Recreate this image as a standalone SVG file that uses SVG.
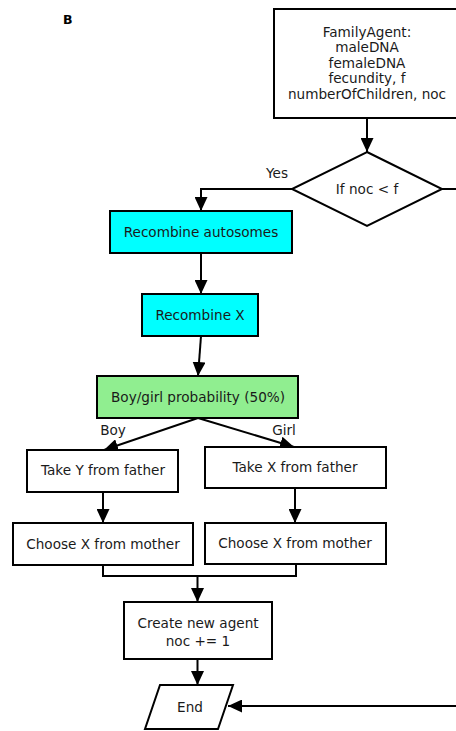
<svg xmlns="http://www.w3.org/2000/svg" width="456" height="731" viewBox="0 0 456 731">
  <style>
    .box { stroke: #000; stroke-width: 2; fill: #fff; }
    .cyan { fill: #00ffff; }
    .green { fill: #90ee90; }
    .lbl { font-family: "DejaVu Sans", sans-serif; font-size: 13.6px; fill: #1a1a1a; text-anchor: middle; }
    .edge { stroke: #000; stroke-width: 2; fill: none; }
    .arr { marker-end: url(#head); }
  </style>
  <defs>
    <marker id="head" markerUnits="userSpaceOnUse" markerWidth="14" markerHeight="13" viewBox="0 0 14 13" refX="14" refY="6.5" orient="auto">
      <path d="M0,0 L14,6.5 L0,13 z" fill="#000"/>
    </marker>
  </defs>
  <rect width="456" height="731" fill="#fff"/>

  <text x="63" y="24" font-family="DejaVu Sans, sans-serif" font-size="12.5" font-weight="bold" fill="#000">B</text>

  <!-- connectors -->
  <g id="connectors">
    <path class="edge arr" d="M367,119 V152"/>
    <path class="edge arr" d="M292,189 H201 V211"/>
    <path class="edge arr" d="M442,189 H470 V706 H228"/>
    <path class="edge arr" d="M201,253 V294"/>
    <path class="edge arr" d="M201,336 L198,376"/>
    <path class="edge arr" d="M198,418 L104,450"/>
    <path class="edge arr" d="M198,418 L294,447"/>
    <path class="edge arr" d="M103,492 V523"/>
    <path class="edge arr" d="M295,488 V523"/>
    <path class="edge" d="M103,565 V576 H296 V564"/>
    <path class="edge arr" d="M197.5,576 V602"/>
    <path class="edge arr" d="M197.5,659 V685"/>
    <text class="lbl" x="277" y="178">Yes</text>
    <text class="lbl" x="113" y="435">Boy</text>
    <text class="lbl" x="284" y="435">Girl</text>
  </g>

  <g id="family-agent">
    <rect class="box" x="274" y="9" width="186" height="109"/>
    <text class="lbl" x="367" y="36.5">FamilyAgent:</text>
    <text class="lbl" x="367" y="52">maleDNA</text>
    <text class="lbl" x="367" y="67.5">femaleDNA</text>
    <text class="lbl" x="367" y="83">fecundity, f</text>
    <text class="lbl" x="367" y="99">numberOfChildren, noc</text>
  </g>

  <g id="decision">
    <polygon class="box" points="367,152 442,189 367,226 292,189"/>
    <text class="lbl" x="367" y="194">If noc &lt; f</text>
  </g>

  <g id="recombine-autosomes">
    <rect class="box cyan" x="110" y="211" width="182" height="42"/>
    <text class="lbl" x="201" y="237">Recombine autosomes</text>
  </g>

  <g id="recombine-x">
    <rect class="box cyan" x="142" y="294" width="116" height="42"/>
    <text class="lbl" x="200" y="320">Recombine X</text>
  </g>

  <g id="sex-choice">
    <rect class="box green" x="97" y="376" width="201" height="42"/>
    <text class="lbl" x="198" y="401.5">Boy/girl probability (50%)</text>
  </g>

  <g id="take-y">
    <rect class="box" x="27" y="450" width="151" height="42"/>
    <text class="lbl" x="103" y="475">Take Y from father</text>
  </g>

  <g id="take-x">
    <rect class="box" x="205" y="447" width="181" height="41"/>
    <text class="lbl" x="295" y="472">Take X from father</text>
  </g>

  <g id="choose-x-boy">
    <rect class="box" x="13" y="523" width="180" height="42"/>
    <text class="lbl" x="103" y="548.5">Choose X from mother</text>
  </g>

  <g id="choose-x-girl">
    <rect class="box" x="205" y="523" width="181" height="41"/>
    <text class="lbl" x="295" y="548">Choose X from mother</text>
  </g>

  <g id="create-agent">
    <rect class="box" x="124" y="602" width="148" height="57"/>
    <text class="lbl" x="198" y="627.5">Create new agent</text>
    <text class="lbl" x="198" y="645.5">noc += 1</text>
  </g>

  <g id="end">
    <polygon class="box" points="160,685 233,685 218,729 145,729"/>
    <text class="lbl" x="190" y="712">End</text>
  </g>
</svg>
